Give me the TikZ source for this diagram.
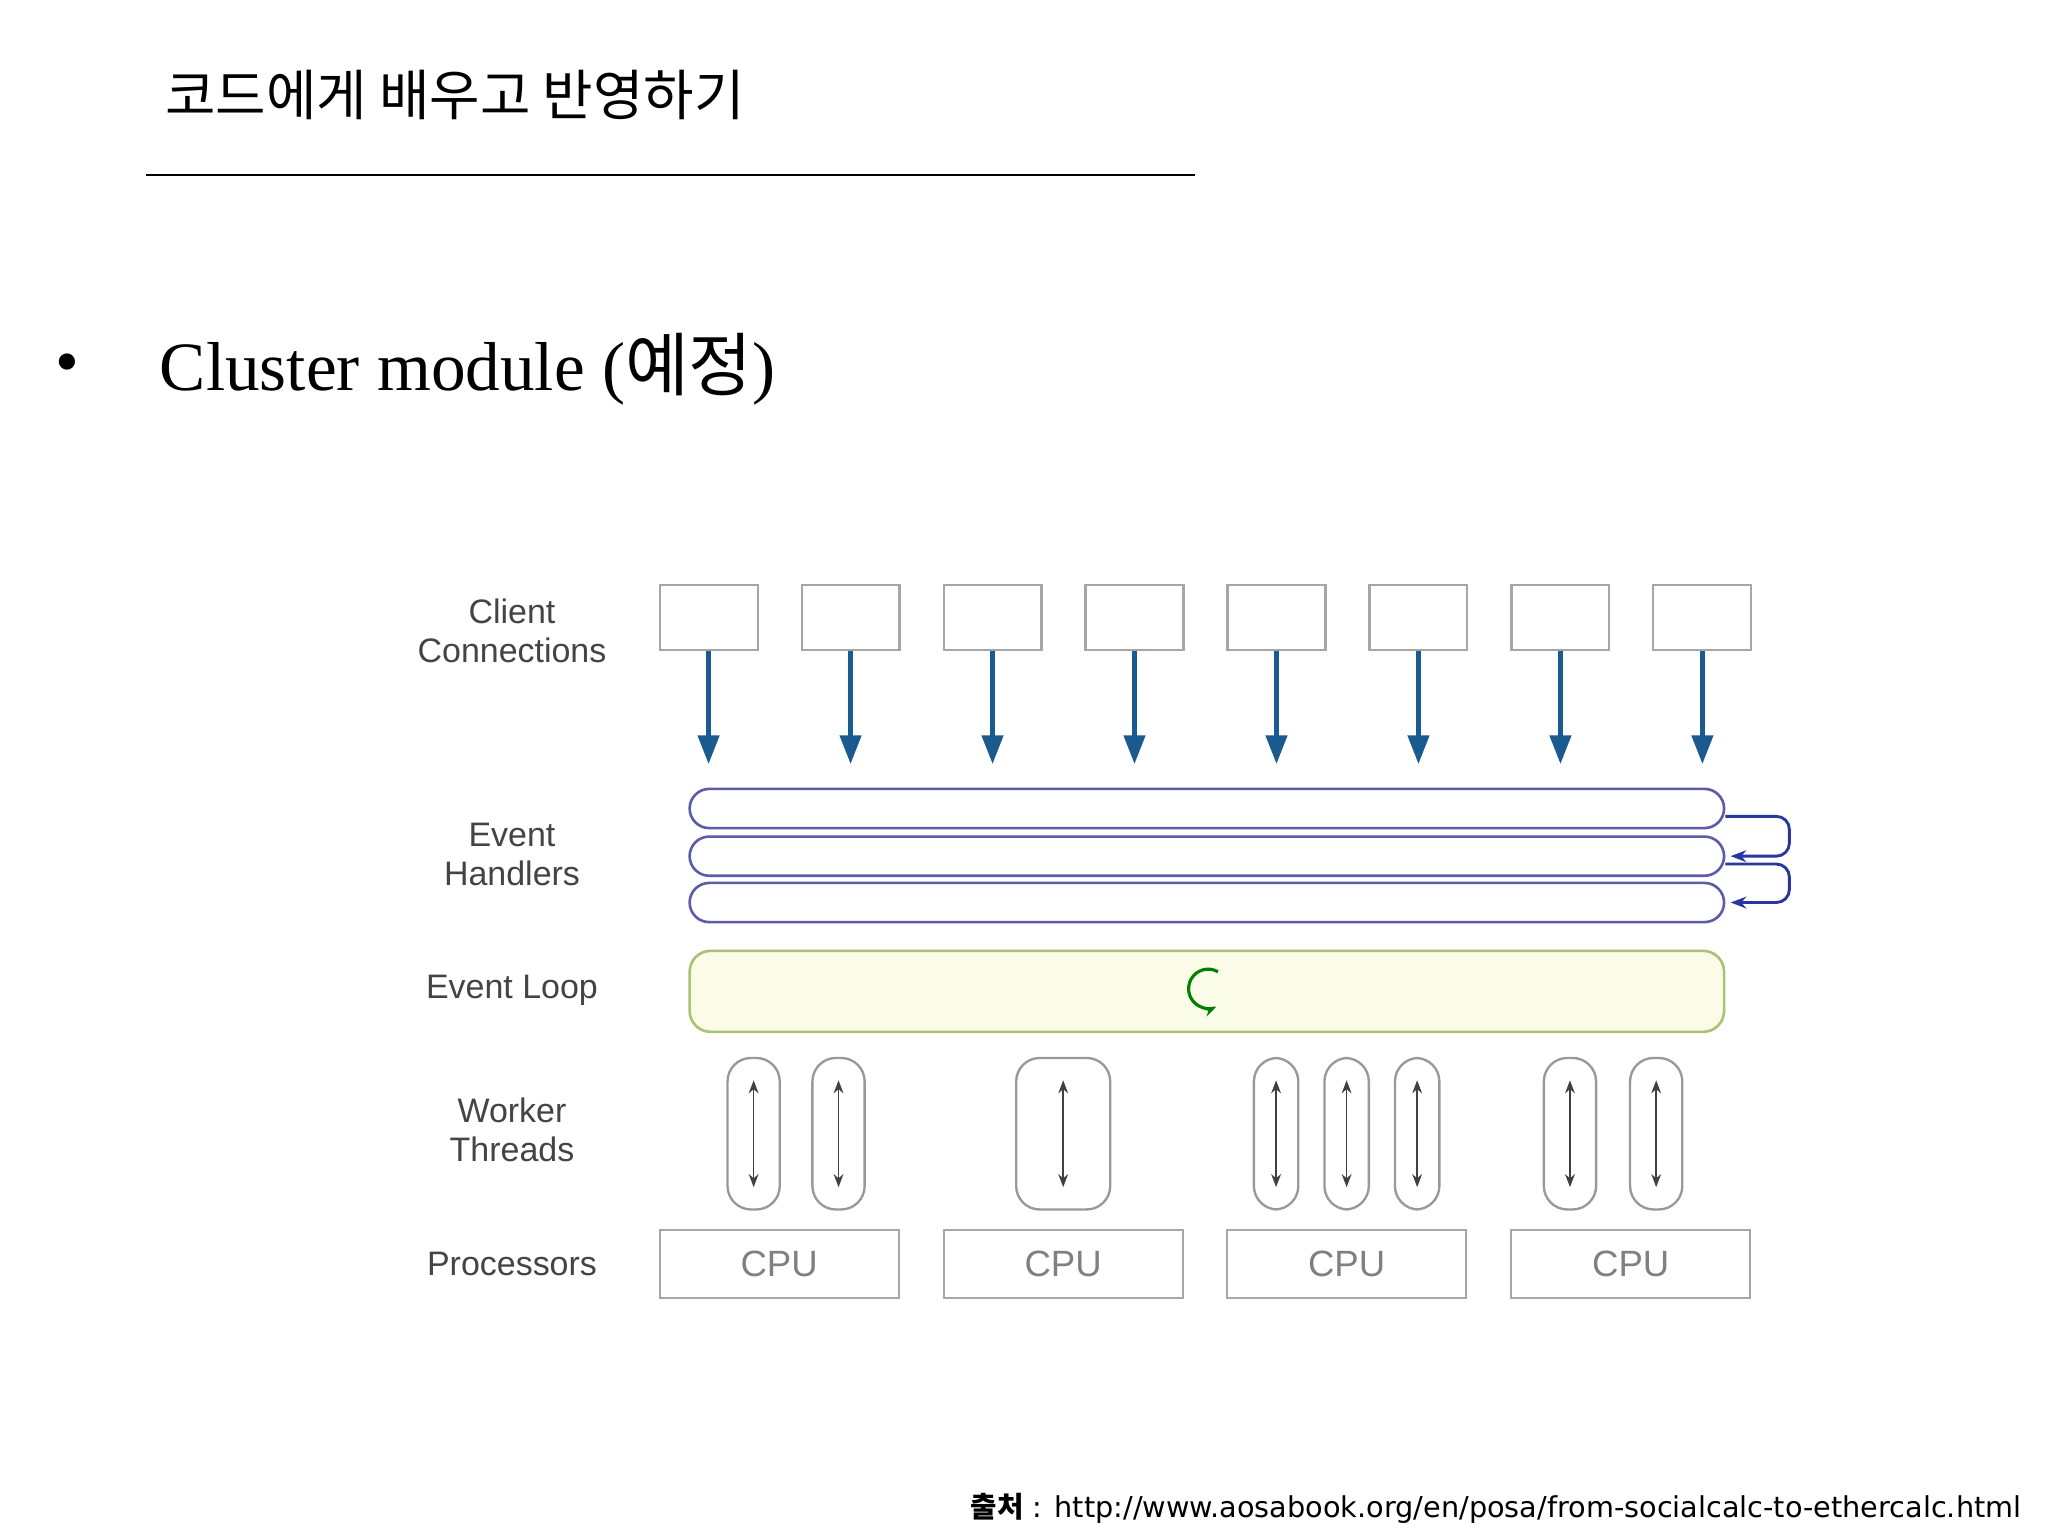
\documentclass[tikz,border=0pt]{standalone}
\usepackage{fontspec}
\setmainfont{Liberation Serif}
\setsansfont{Liberation Sans}
\newfontfamily\kr{Noto Sans CJK KR}
\newfontfamily\djsans{DejaVu Sans}
\usetikzlibrary{arrows.meta}
\definecolor{lbl}{HTML}{444444}
\definecolor{arrblue}{HTML}{1B5A8E}
\definecolor{barc}{HTML}{5C5CAA}
\definecolor{loopc}{HTML}{2A36A0}
\definecolor{elfill}{HTML}{FAFCE8}
\definecolor{eldraw}{HTML}{A9C274}
\tikzset{
 lab/.style={font=\sffamily\fontsize{13}{16}\selectfont, text=lbl, align=center},
 cbox/.style={draw=gray!70, line width=0.8pt, fill=white},
 carr/.style={draw=arrblue, line width=1.8pt, -{Triangle[length=11pt,width=8pt]}},
 bar/.style={draw=barc, line width=1pt, rounded corners=7.5pt, fill=white},
 pill/.style={draw=gray!80, line width=0.9pt, rounded corners=9pt, fill=white},
 darr/.style={draw=black!75, line width=0.6pt, {Stealth[length=5pt]}-{Stealth[length=5pt]}},
 loopa/.style={draw=loopc, line width=1.1pt, rounded corners=5pt, -{Stealth[length=6pt]}},
}
\begin{document}
\begin{tikzpicture}[x=0.5pt,y=-0.5pt]
\useasboundingbox (0,0) rectangle (1568,1176);
\fill[white] (0,0) rectangle (1568,1176);
\node[anchor=west, inner sep=0] (title) at (126,73) {\kr\fontsize{21}{24}\selectfont 코드에게 배우고 반영하기};
\draw[line width=1pt] (112,134) coordinate (l1) -- (915,134) coordinate (l2);
\node[anchor=west, inner sep=0] (bul) at (42,283) {\fontsize{26}{30}\selectfont •};
\node[anchor=west, inner sep=0] (head) at (122,283) {\fontsize{26.5}{32}\selectfont Cluster module (\kr 예정\rmfamily)};
% labels
\node[lab] (lc) at (392,483) {Client\\[-1pt]Connections};
\node[lab] (lh) at (392,654) {Event\\[-1pt]Handlers};
\node[lab] (ll) at (392,758) {Event Loop};
\node[lab] (lw) at (392,865) {Worker\\[-1pt]Threads};
\node[lab] (lp) at (392,968) {Processors};
% client boxes
\foreach \i in {0,...,7}{
 \pgfmathsetmacro\cx{542.5+108.7*\i}
 \node[cbox, minimum width=37.5pt, minimum height=25pt, inner sep=0] (c\i) at (\cx,473) {};
 \coordinate (e\i) at (\cx,585);
 \draw[carr] (c\i.south) -- (e\i);
}
% event handler bars
\node[bar, minimum width=396pt, minimum height=15pt, inner sep=0] (b1) at (924,619) {};
\node[bar, minimum width=396pt, minimum height=15pt, inner sep=0] (b2) at (924,655.5) {};
\node[bar, minimum width=396pt, minimum height=15pt, inner sep=0] (b3) at (924,691) {};
\coordinate (t1) at ([xshift=2pt]b2.east);
\coordinate (t2) at ([xshift=2pt]b3.east);
\draw[loopa] ([yshift=-3pt]b1.east) -| (1370,655.5) -- (t1);
\draw[loopa] ([yshift=-3pt]b2.east) -| (1370,691) -- (t2);
% event loop
\node[draw=eldraw, fill=elfill, line width=1pt, rounded corners=8pt, minimum width=396pt, minimum height=31pt, inner sep=0] (el) at (924,759) {};
\begin{scope}[shift={(925,757)}, x=1pt, y=1pt]
\draw[draw=green!50!black, line width=1.2pt, -{Stealth[length=5pt]}] (60:7.5) arc[start angle=60, end angle=295, radius=7.5];
\end{scope}
% worker threads
\foreach \n/\x/\w in {w1/577/40, w2/642/40, w3/814/72, w4/977/34, w5/1031/34, w6/1085/34, w7/1202/40, w8/1268/40}{
 \node[pill, minimum width=\w*0.5pt, minimum height=58pt, inner sep=0] (\n) at (\x,868) {};
 \draw[darr] ([yshift=-9pt]\n.north) -- ([yshift=9pt]\n.south);
}
% CPUs
\foreach \i/\x in {1/596.5, 2/814, 3/1031, 4/1248.5}{
 \node[cbox, minimum width=91.5pt, minimum height=26pt, inner sep=0, font=\sffamily\fontsize{14}{16}\selectfont, text=gray] (p\i) at (\x,968) {CPU};
}
% source
\node[anchor=east, inner sep=0, font=\djsans\fontsize{11}{13}\selectfont] (src) at (1548,1155) {{\kr\bfseries 출처} : http://www.aosabook.org/en/posa/from-socialcalc-to-ethercalc.html};
\end{tikzpicture}
\end{document}
